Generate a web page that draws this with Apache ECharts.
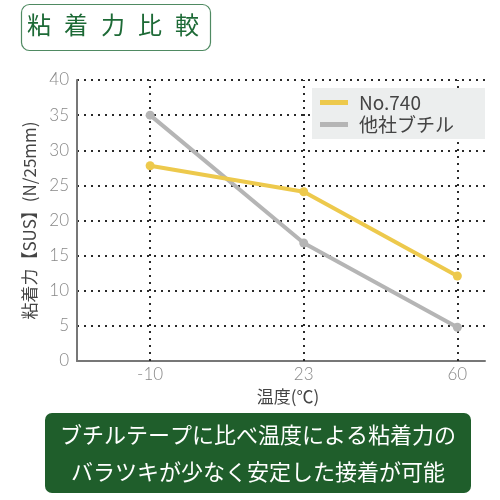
<!DOCTYPE html>
<html><head><meta charset="utf-8">
<script src="https://cdn.jsdelivr.net/npm/echarts@6/dist/echarts.min.js"></script>
<style>html,body{margin:0;padding:0;background:#fff}#c{width:500px;height:500px}</style>
</head><body><div id="c"></div>
<script>
const titleText = "粘着力比較";
const categories = ["-10", "23", "60"];
const seriesNames = ["No.740", "他社ブチル"];
const no740 = [27.8, 24.1, 12.1];
const competitor = [35.0, 16.8, 4.8];
const yTicks = [0, 5, 10, 15, 20, 25, 30, 35, 40];
const yAxisName = "粘着力【SUS】(N/25mm)";
const xAxisName = "温度(℃)";
const noteLines = ["ブチルテープに比べ温度による粘着力の", "バラツキが少なく安定した接着が可能"];

const CJK = '"Noto Sans CJK JP", "Noto Sans", sans-serif';
const NUM = 'Lato, "Noto Sans", sans-serif';
const dotStyle = { color: '#2a2a2a', width: 2, type: [2, 5], opacity: 1 };

const chart = echarts.init(document.getElementById('c'), null, { renderer: 'canvas' });

const titleChars = titleText.split('').map((ch, i) => ({
  type: 'text', left: 27 + i * 37, top: 13, z: 10,
  style: { text: ch, fill: '#1d6a36', font: '24px ' + CJK }
}));

chart.setOption({
  animation: false,
  backgroundColor: '#fff',
  grid: { left: 77, right: 15, top: 80, bottom: 139 },
  legend: {
    left: 312, top: 88, orient: 'vertical',
    backgroundColor: '#ECEEEE', borderRadius: 0,
    padding: [5, 31, 5, 8], itemGap: 3,
    itemWidth: 28, itemHeight: 5, icon: 'rect',
    textStyle: { fontSize: 19, color: '#444', fontFamily: CJK, padding: [0, 0, 0, 6] },
    data: seriesNames
  },
  xAxis: {
    type: 'value', min: -0.476, max: 2.18,
    axisLine: { show: true, onZero: false, lineStyle: { color: '#777', width: 2 } },
    axisTick: { show: false },
    splitLine: { show: false },
    axisLabel: {
      customValues: categories.map((c, i) => i),
      formatter: v => categories[Math.round(v)],
      color: '#888', fontSize: 17, fontFamily: NUM, fontWeight: 300, margin: 5
    },
    name: xAxisName, nameLocation: 'middle', nameGap: 21,
    nameTextStyle: { color: '#444', fontSize: 17, fontFamily: CJK, padding: [0, 0, 0, 14] }
  },
  yAxis: {
    type: 'value', min: yTicks[0], max: yTicks[yTicks.length - 1], interval: 5,
    axisLine: { show: true, onZero: false, lineStyle: { color: '#777', width: 2 } },
    axisTick: { show: false },
    splitLine: { show: true, lineStyle: dotStyle },
    axisLabel: { color: '#888', fontSize: 17, fontFamily: NUM, fontWeight: 300, margin: 8 },
    name: yAxisName, nameLocation: 'middle', nameGap: 20, nameRotate: 90,
    nameTextStyle: { color: '#444', fontSize: 17, fontFamily: CJK }
  },
  series: [
    {
      name: seriesNames[0], type: 'line', z: 3,
      data: no740.map((v, i) => [i, v]),
      symbol: 'circle', symbolSize: 9,
      lineStyle: { color: '#EDC94C', width: 4 },
      itemStyle: { color: '#EDC94C' },
      markLine: {
        silent: true, symbol: 'none', label: { show: false },
        lineStyle: dotStyle, z: 1,
        emphasis: { disabled: true },
        data: categories.map((c, i) => ({ xAxis: i }))
      }
    },
    {
      name: seriesNames[1], type: 'line', z: 2,
      data: competitor.map((v, i) => [i, v]),
      symbol: 'circle', symbolSize: 9,
      lineStyle: { color: '#B5B5B5', width: 4 },
      itemStyle: { color: '#B5B5B5' }
    }
  ],
  graphic: [
    { type: 'rect', shape: { x: 21.5, y: 4.5, width: 189, height: 46, r: 8 },
      style: { fill: '#fff', stroke: '#4f8a62', lineWidth: 1.2 } },
    ...titleChars,
    { type: 'rect', shape: { x: 45, y: 413, width: 426, height: 80, r: 7 },
      style: { fill: '#1F5E2B' } },
    { type: 'text', x: 258, y: 453, z: 10,
      style: { text: noteLines.join('\n'), fill: '#fff', font: '22px ' + CJK,
               textAlign: 'center', textVerticalAlign: 'middle', lineHeight: 37 } }
  ]
});
</script></body></html>
